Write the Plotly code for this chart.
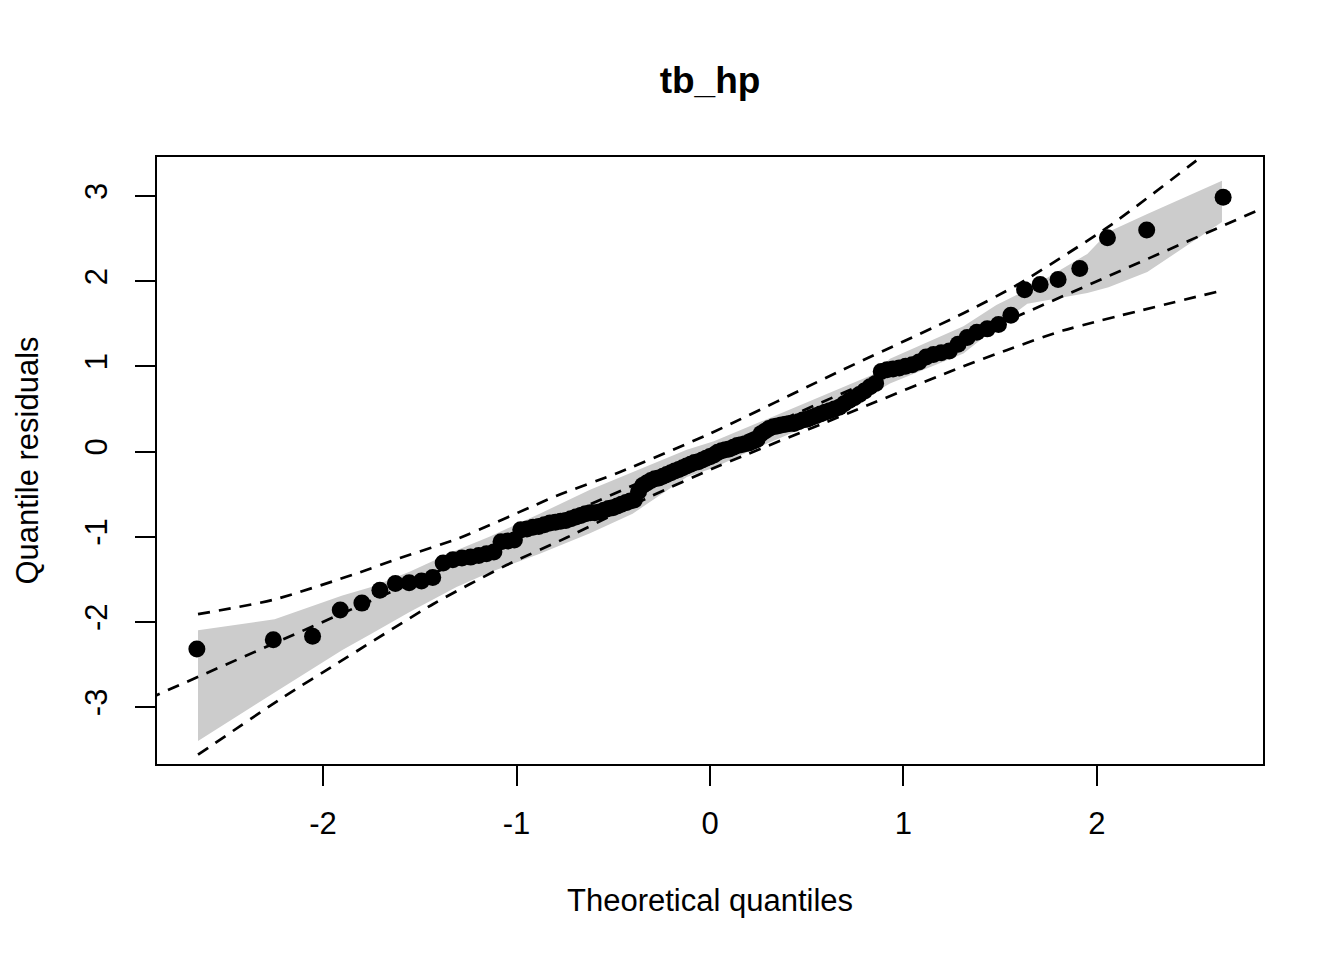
import plotly.graph_objects as go

# theoretical quantiles (x) and quantile residuals (y)
qq_x = [
    -2.652, -2.257, -2.054, -1.911, -1.799, -1.706, -1.626, -1.555, -1.491, -1.433,
    -1.379, -1.329, -1.282, -1.237, -1.195, -1.155, -1.117, -1.080, -1.045, -1.011,
    -0.978, -0.946, -0.915, -0.885, -0.856, -0.827, -0.799, -0.772, -0.745, -0.719,
    -0.693, -0.668, -0.643, -0.619, -0.595, -0.571, -0.548, -0.524, -0.502, -0.479,
    -0.457, -0.434, -0.412, -0.391, -0.369, -0.348, -0.327, -0.305, -0.285, -0.264,
    -0.243, -0.223, -0.202, -0.182, -0.161, -0.141, -0.121, -0.100, -0.080, -0.060,
    -0.040, -0.020, 0.000,
    0.020, 0.040, 0.060, 0.080, 0.100, 0.121, 0.141, 0.161, 0.182, 0.202,
    0.223, 0.243, 0.264, 0.285, 0.305, 0.327, 0.348, 0.369, 0.391, 0.412,
    0.434, 0.457, 0.479, 0.502, 0.524, 0.548, 0.571, 0.595, 0.619, 0.643,
    0.668, 0.693, 0.719, 0.745, 0.772, 0.799, 0.827, 0.856, 0.885, 0.915,
    0.946, 0.978, 1.011, 1.045, 1.080, 1.117, 1.155, 1.195, 1.237, 1.282,
    1.329, 1.379, 1.433, 1.491, 1.555, 1.626, 1.706, 1.799, 1.911, 2.054,
    2.257, 2.652,
]
qq_y = [
    -2.32, -2.21, -2.17, -1.86, -1.78, -1.63, -1.55, -1.54, -1.52, -1.48,
    -1.31, -1.27, -1.25, -1.24, -1.22, -1.20, -1.18, -1.06, -1.05, -1.04,
    -0.92, -0.91, -0.89, -0.88, -0.86, -0.84, -0.83, -0.82, -0.81, -0.79,
    -0.77, -0.75, -0.73, -0.72, -0.72, -0.71, -0.69, -0.67, -0.66, -0.64,
    -0.62, -0.60, -0.58, -0.57, -0.47, -0.40, -0.37, -0.34, -0.32, -0.31,
    -0.29, -0.27, -0.25, -0.23, -0.21, -0.19, -0.17, -0.15, -0.13, -0.12,
    -0.10, -0.08, -0.06,
    -0.04, -0.01, 0.01, 0.02, 0.03, 0.05, 0.07, 0.08, 0.09, 0.10,
    0.12, 0.14, 0.21, 0.24, 0.27, 0.29, 0.30, 0.31, 0.32, 0.33,
    0.33, 0.35, 0.37, 0.38, 0.40, 0.42, 0.44, 0.46, 0.48, 0.50,
    0.52, 0.56, 0.60, 0.63, 0.67, 0.71, 0.76, 0.80, 0.94, 0.96,
    0.97, 0.98, 1.00, 1.02, 1.05, 1.11, 1.14, 1.16, 1.18, 1.26,
    1.34, 1.40, 1.44, 1.49, 1.60, 1.90, 1.96, 2.02, 2.15, 2.51,
    2.60, 2.985,
]

# simulated envelope (grey band)
band_x = [-2.646, -2.25, -1.90, -1.75, -1.55, -1.31, -1.14, -0.88, -0.62, -0.40,
          -0.12, 0.02, 0.22, 0.57, 0.84, 0.93, 1.31, 1.48, 1.64, 1.81,
          1.95, 2.06, 2.26, 2.646]
band_upper = [-2.10, -1.97, -1.69, -1.59, -1.41, -1.16, -1.00, -0.73, -0.45, -0.24,
              0.02, 0.12, 0.31, 0.64, 0.90, 1.09, 1.47, 1.72, 1.90, 2.13,
              2.32, 2.58, 2.79, 3.18]
band_lower = [-3.40, -2.83, -2.33, -2.14, -1.88, -1.59, -1.42, -1.20, -0.96, -0.73,
              -0.30, -0.19, 0.02, 0.36, 0.68, 0.80, 1.15, 1.46, 1.735, 1.80,
              1.86, 1.93, 2.107, 2.695]

# pointwise confidence curves (dashed)
ci_up_x = [-2.646, -2.255, -1.824, -1.602, -1.30, -0.792, -0.465, 0.0,
           0.672, 1.307, 1.583, 2.06, 2.51, 2.646]
ci_up_y = [-1.91, -1.74, -1.43, -1.25, -1.02, -0.52, -0.24, 0.21,
           0.945, 1.62, 1.95, 2.64, 3.41, 3.65]
ci_lo_x = [-2.646, -2.203, -1.928, -1.43, -1.051, -0.74, -0.31, 0.017,
           0.758, 1.307, 1.533, 1.824, 2.646]
ci_lo_y = [-3.56, -2.88, -2.49, -1.79, -1.333, -1.01, -0.53, -0.197,
           0.49, 1.0, 1.19, 1.42, 1.89]

# reference line
ref_x = [-3.0, 3.0]
ref_y = [-3.0, 3.0]

x_ticks = [-2, -1, 0, 1, 2]
y_ticks = [-3, -2, -1, 0, 1, 2, 3]

font_family = "Liberation Sans, Arial, Helvetica, sans-serif"
dash = "12px,9px"

fig = go.Figure()

fig.add_trace(go.Scatter(
    x=band_x + band_x[::-1],
    y=band_upper + band_lower[::-1],
    fill="toself", fillcolor="#CCCCCC",
    line=dict(width=0), mode="lines", hoverinfo="skip",
))
fig.add_trace(go.Scatter(x=ref_x, y=ref_y, mode="lines",
                         line=dict(color="black", width=2.7, dash=dash)))
fig.add_trace(go.Scatter(x=ci_up_x, y=ci_up_y, mode="lines",
                         line=dict(color="black", width=2.7, dash=dash, shape="spline", smoothing=0.6)))
fig.add_trace(go.Scatter(x=ci_lo_x, y=ci_lo_y, mode="lines",
                         line=dict(color="black", width=2.7, dash=dash, shape="spline", smoothing=0.6)))
fig.add_trace(go.Scatter(x=qq_x, y=qq_y, mode="markers",
                         marker=dict(color="black", size=17, line=dict(width=0))))

axis_style = dict(
    showgrid=False, zeroline=False,
    showline=True, mirror=True, linecolor="black", linewidth=1.5,
    ticks="outside", ticklen=20, tickwidth=1.5, tickcolor="black",
    tickfont=dict(family=font_family, size=31, color="black"),
)

# page body adds ~8px offset, so the figure is 8px smaller than the window
fig.update_layout(
    width=1336, height=952,
    paper_bgcolor="white", plot_bgcolor="white",
    showlegend=False,
    margin=dict(l=149, r=81, t=149, b=196),
    title=dict(text="<b>tb_hp</b>", x=0.5, xref="paper", y=1 - 72 / 952,
               yanchor="middle", xanchor="center",
               font=dict(family=font_family, size=37, color="black")),
    xaxis=dict(range=[-2.858, 2.858], tickvals=x_ticks,
               ticktext=[str(v) for v in x_ticks], ticklabelstandoff=11, **axis_style),
    yaxis=dict(range=[-3.669, 3.458], tickvals=y_ticks,
               ticktext=[str(v) for v in y_ticks], tickangle=-90,
               ticklabelstandoff=16, **axis_style),
    annotations=[
        dict(text="Theoretical quantiles", xref="paper", yref="paper",
             x=0.5, y=-0.2256, xanchor="center", yanchor="middle", showarrow=False,
             font=dict(family=font_family, size=31, color="black")),
        dict(text="Quantile residuals", xref="paper", yref="paper",
             x=-0.1175, y=0.5, xanchor="center", yanchor="middle", showarrow=False,
             textangle=-90, font=dict(family=font_family, size=31, color="black")),
    ],
)

fig.write_html("out.html")
